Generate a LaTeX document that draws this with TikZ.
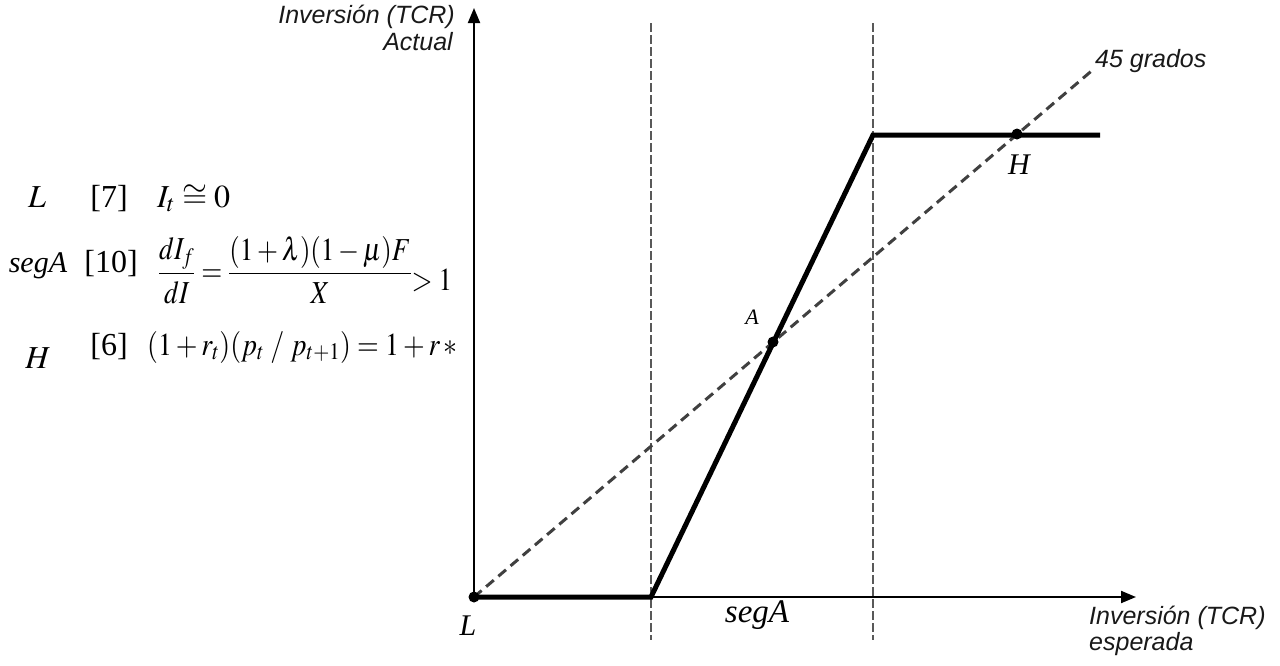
\documentclass[tikz,border=0pt]{standalone}
\usepackage{amsmath}
\usepackage{graphicx}
\usepackage{mathptmx}
\usepackage{fontspec}
\setmainfont{Liberation Serif}
\newfontfamily\axfont{Liberation Sans}
\usetikzlibrary{arrows.meta}
\tikzset{
  axis/.style={line width=2pt,-{Triangle[length=15pt,width=12pt]}},
  guide/.style={line width=2pt,draw=black!65,dash pattern=on 9pt off 3pt},
  curve/.style={line width=5pt,line join=miter},
  diag/.style={line width=3pt,draw=black!75,dash pattern=on 10pt off 6pt},
  dot/.style={circle,fill=black,inner sep=0pt,minimum size=11pt},
  axlabel/.style={font=\fontsize{25}{26}\selectfont\axfont\itshape,inner sep=0pt,text=black!90},
  ptlabel/.style={font=\fontsize{30}{30}\selectfont\itshape,inner sep=0pt},
  eq/.style={font=\fontsize{32}{36}\selectfont,inner sep=0pt}
}
\begin{document}
\begin{tikzpicture}[x=1pt,y=-1pt]
\useasboundingbox (0,0) rectangle (1280,665);
% key points
\coordinate (O) at (474,597);
\coordinate (P1) at (651,597);
\coordinate (P2) at (873,135);
\coordinate (P3) at (1100,135);
\coordinate (Ytop) at (474,8);
\coordinate (Xend) at (1136,597);
\coordinate (Dend) at (1095,68);
\coordinate (G1t) at (651,23);
\coordinate (G1b) at (651,640);
\coordinate (G2t) at (873,23);
\coordinate (G2b) at (873,640);
% guides
\draw[guide] (G1t) -- (G1b);
\draw[guide] (G2t) -- (G2b);
% axes
\draw[axis] (O) -- (Ytop);
\draw[axis] (O) -- (Xend);
% 45 degree line
\draw[diag] (O) -- (Dend);
% investment curve
\draw[curve] (O) -- (P1) -- (P2) -- (P3);
% dots
\node[dot] (Ldot) at (O) {};
\node[dot] (Adot) at (773,342) {};
\node[dot] (Hdot) at (1017,134) {};
% point labels
\node[ptlabel] (Llab) at (468,626) {L};
\node[ptlabel,font=\fontsize{33}{33}\selectfont\itshape] (seglab) at (757,615) {segA};
\node[ptlabel] (Hlab) at (1019,165) {H};
\node[ptlabel,font=\fontsize{22}{22}\selectfont\itshape] (Alab) at (752,317) {A};
% axis labels
\node[axlabel,anchor=north east] (ylab1) at (455,5) {Inversión (TCR)};
\node[axlabel,anchor=north east] (ylab2) at (453,32) {Actual};
\node[axlabel,anchor=north west] (xlab1) at (1089,606) {Inversión (TCR)};
\node[axlabel,anchor=north west] (xlab2) at (1089,632) {esperada};
\node[axlabel,anchor=west] (deg) at (1095,61) {45 grados};
% equations
\node[eq,anchor=base] (c1) at (37,207) {$L$};
\node[eq,anchor=base] (n1) at (109,207) {[7]};
\node[eq,anchor=base west] (e1) at (157,207) {$I_t \cong 0$};
\node[eq,anchor=base,font=\fontsize{30}{34}\selectfont] (c2) at (38,272) {\textit{segA}};
\node[eq,anchor=base] (n2) at (111,272) {[10]};
\node[eq,anchor=west] (e2) at (158,270) {\resizebox{294pt}{\height}{$\dfrac{dI_f}{dI}=\dfrac{(1+\lambda)(1-\mu)F}{X}\raisebox{-9pt}{$>1$}$}};
\node[eq,anchor=base] (c3) at (38,368) {$H$};
\node[eq,anchor=base] (n3) at (109,355) {[6]};
\node[eq,anchor=base west] (e3) at (147,355) {\resizebox{310pt}{\height}{$(1+r_t)(p_t\;/\;p_{t+1})=1+r\,{*}$}};
\end{tikzpicture}
\end{document}
